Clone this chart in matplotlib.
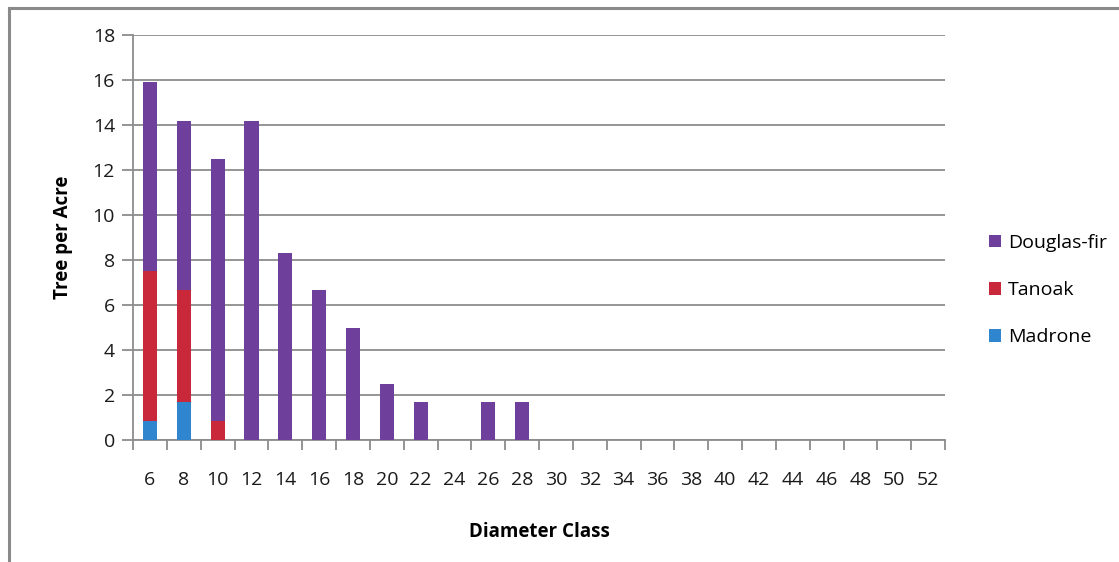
import matplotlib.pyplot as plt
import numpy as np

plt.rcParams['font.family'] = ['Open Sans', 'DejaVu Sans']

# Diameter classes (inches) and trees per acre by species
diameter_class = [str(d) for d in range(6, 54, 2)]
madrone = [0.83, 1.67] + [0] * 22
tanoak = [6.67, 5.0, 0.83] + [0] * 21
douglas_fir = [8.4, 7.5, 11.67, 14.17, 8.33, 6.67, 5.0, 2.5, 1.67, 0, 1.67, 1.67] + [0] * 12

series = [
    ('Madrone', madrone, '#2F86CF'),
    ('Tanoak', tanoak, '#C9283A'),
    ('Douglas-fir', douglas_fir, '#6F3F9C'),
]

fig = plt.figure(figsize=(11.19, 5.62), dpi=100)
ax = fig.add_axes([0.1189, 0.217, 0.7256, 0.7206])

x = np.arange(len(diameter_class))
bottom = np.zeros(len(x))
handles = []
for name, vals, col in series:
    vals = np.array(vals, dtype=float)
    b = ax.bar(x, vals, width=0.42, bottom=bottom, color=col, label=name, zorder=3)
    handles.append(b)
    bottom += vals

ax.set_xlim(-0.5, len(x) - 0.5)
ax.set_ylim(0, 18)
ax.set_yticks(range(0, 19, 2))
ax.yaxis.grid(True, color='#8c8c8c', linewidth=1.3, zorder=0)

# category labels centred, tick marks on the boundaries
ax.set_xticks(x)
ax.set_xticklabels(diameter_class, fontsize=14, color='#1a1a1a')
ax.set_xticks(np.arange(len(x) + 1) - 0.5, minor=True)
ax.tick_params(axis='x', which='major', length=0, pad=22)
ax.tick_params(axis='x', which='minor', length=7, width=1.3, color='#8c8c8c', direction='out')
ax.tick_params(axis='y', length=8, width=1.3, color='#8c8c8c', labelsize=14,
               labelcolor='#1a1a1a', pad=5)

for s in ['top', 'right']:
    ax.spines[s].set_visible(False)
for s in ['left', 'bottom']:
    ax.spines[s].set_color('#8c8c8c')
    ax.spines[s].set_linewidth(1.3)

ax.set_ylabel('Tree per Acre', fontsize=13.5, fontweight='bold', labelpad=14)
ax.set_xlabel('Diameter Class', fontsize=13.5, fontweight='bold', labelpad=24)

leg = fig.legend(handles[::-1], [h.get_label() for h in handles[::-1]],
                 loc='center left', bbox_to_anchor=(0.868, 0.484), frameon=False,
                 fontsize=14, handlelength=0.65, handleheight=0.65,
                 handletextpad=0.35, labelspacing=1.5)

# outer chart frame (top and left edges)
fig.add_artist(plt.Line2D([0.008, 1.0], [0.986, 0.986], color='#8a8a8a', linewidth=2.2,
                          transform=fig.transFigure))
fig.add_artist(plt.Line2D([0.008, 0.008], [0.0, 0.986], color='#8a8a8a', linewidth=2.2,
                          transform=fig.transFigure))

fig.savefig('out.png', dpi=100)
